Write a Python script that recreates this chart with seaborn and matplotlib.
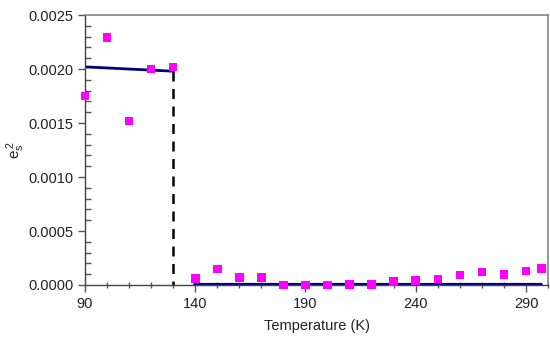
import numpy as np
import pandas as pd
import seaborn as sns
import matplotlib.pyplot as plt
from matplotlib.ticker import MultipleLocator, FixedLocator, FormatStrFormatter

# measured points
temp = [90, 100, 110, 120, 130, 140, 150, 160, 170, 180, 190, 200, 210,
        220, 230, 240, 250, 260, 270, 280, 290, 297]
es2 = [0.00175, 0.00229, 0.00152, 0.00200, 0.00202, 0.000062, 0.000148,
       0.000071, 0.000071, 0.0, 0.0, 0.0, 0.000006, 0.000006, 0.00003,
       0.00004, 0.000056, 0.000093, 0.00012, 0.000095, 0.00013, 0.000155]

# model curve: ordered phase, then disordered phase
fit_low_t = [90, 130]
fit_low_v = [0.00202, 0.00198]
fit_high_t = [140, 297]
fit_high_v = [0.0, 0.0]
# transition
jump_t = [130, 130]
jump_v = [0.00198, 0.0]

x_ticks = [90, 140, 190, 240, 290]

sns.set_style("white")
plt.rcParams['font.family'] = ['Liberation Sans', 'DejaVu Sans']

fig = plt.figure(figsize=(5.5, 3.42), dpi=100)
ax = fig.add_axes([0.1545, 0.1667, 0.842, 0.7893])

pts = pd.DataFrame({'T': temp, 'e': es2})
sns.lineplot(x=fit_low_t, y=fit_low_v, color='#000080', lw=2, ax=ax)
sns.lineplot(x=fit_high_t, y=fit_high_v, color='#000080', lw=3, ax=ax)
ax.plot(jump_t, jump_v, color='black', lw=1.8, ls=(0, (4, 3)))
sns.scatterplot(data=pts, x='T', y='e', marker='s', s=38, color='#ff00ff',
                edgecolor='none', ax=ax, zorder=5, clip_on=False)

ax.set_xlim(90, 300)
ax.set_ylim(0, 0.0025)
ax.xaxis.set_major_locator(FixedLocator(x_ticks))
ax.xaxis.set_minor_locator(MultipleLocator(10))
ax.yaxis.set_major_locator(MultipleLocator(0.0005))
ax.yaxis.set_minor_locator(MultipleLocator(0.0001))
ax.yaxis.set_major_formatter(FormatStrFormatter('%.4f'))

ax.tick_params(axis='both', which='major', direction='out', length=5,
               width=1, color='#555555', labelsize=10.5, labelcolor='#222222',
               bottom=True, left=True)
ax.tick_params(axis='x', which='minor', direction='inout', length=5,
               width=1, color='#555555', bottom=True)
ax.tick_params(axis='y', which='minor', direction='in', length=4,
               width=1, color='#555555', left=True)

for side in ['left', 'bottom']:
    ax.spines[side].set_color('#444444')
    ax.spines[side].set_linewidth(1)
for side in ['top', 'right']:
    ax.spines[side].set_color('#888888')
    ax.spines[side].set_linewidth(1.2)

ax.set_xlabel('Temperature (K)', fontsize=10.5, color='#222222', labelpad=6)
ax.set_ylabel(r'$\mathregular{e_s^{\,2}}$', fontsize=11, color='#222222')
ax.yaxis.set_label_coords(-0.125, 0.5)

fig.savefig('out.png', dpi=100)
